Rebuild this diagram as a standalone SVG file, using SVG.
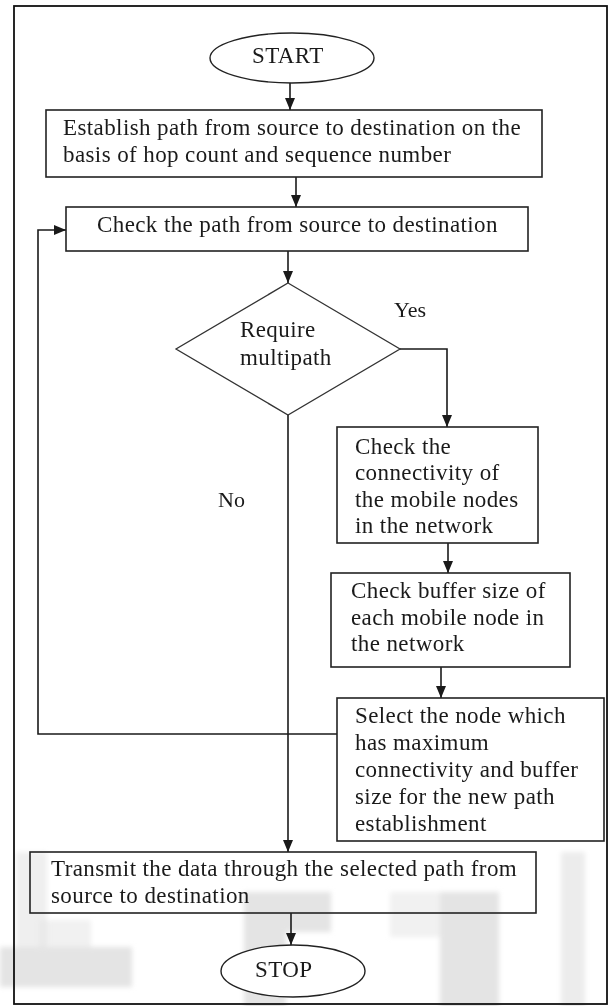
<svg xmlns="http://www.w3.org/2000/svg" width="611" height="1006" viewBox="0 0 611 1006">
<style>
.box{fill:none;stroke:#222;stroke-width:1.6}
.term{fill:#fff;stroke:#222;stroke-width:1.4}
.dia{fill:none;stroke:#333;stroke-width:1.3}
.t{font-family:"Liberation Serif","Times New Roman",serif;font-size:23px;fill:#1a1a1a;letter-spacing:0.4px}
.lbl{font-family:"Liberation Serif","Times New Roman",serif;font-size:22px;fill:#1a1a1a}
.c{fill:none;stroke:#1a1a1a;stroke-width:1.6}
.wm{fill:#e4e4e4}
</style>
<defs>
<marker id="ah" markerUnits="userSpaceOnUse" markerWidth="12" markerHeight="10" refX="12" refY="5" orient="auto">
<path d="M0,0 L12,5 L0,10 z" fill="#1a1a1a"/>
</marker>
<filter id="soft" x="-10%" y="-10%" width="120%" height="120%">
<feGaussianBlur stdDeviation="2.5"/>
</filter>
</defs>
<rect width="611" height="1006" fill="#fff"/>
<g id="watermark" filter="url(#soft)">
<rect class="wm" x="16" y="852" width="31" height="95" opacity="0.6"/>
<rect class="wm" x="39" y="920" width="52" height="27" opacity="0.5"/>
<rect class="wm" x="0" y="947" width="132" height="40"/>
<rect class="wm" x="244" y="892" width="87" height="40"/>
<rect class="wm" x="244" y="932" width="42" height="80"/>
<rect class="wm" x="390" y="892" width="50" height="45" opacity="0.5"/>
<rect class="wm" x="440" y="892" width="59" height="120"/>
<rect class="wm" x="561" y="852" width="24" height="160" opacity="0.7"/>
</g>
<rect id="frame" x="14" y="6" width="593" height="998" fill="none" stroke="#111" stroke-width="1.8"/>
<g id="connectors">
<line class="c" x1="290" y1="83" x2="290" y2="110" marker-end="url(#ah)"/>
<line class="c" x1="296" y1="177" x2="296" y2="207" marker-end="url(#ah)"/>
<line class="c" x1="288" y1="251" x2="288" y2="283" marker-end="url(#ah)"/>
<polyline class="c" points="400,349 447,349 447,427" marker-end="url(#ah)"/>
<line class="c" x1="288" y1="415" x2="288" y2="852" marker-end="url(#ah)"/>
<line class="c" x1="448" y1="543" x2="448" y2="573" marker-end="url(#ah)"/>
<line class="c" x1="441" y1="667" x2="441" y2="698" marker-end="url(#ah)"/>
<polyline class="c" points="337,734 38,734 38,230 66,230" marker-end="url(#ah)"/>
<line class="c" x1="291" y1="913" x2="291" y2="945" marker-end="url(#ah)"/>
<text class="lbl" x="394" y="317">Yes</text>
<text class="lbl" x="218" y="507">No</text>
</g>
<g id="start">
<ellipse class="term" cx="292" cy="58" rx="82" ry="25"/>
<text class="t" x="252" y="63">START</text>
</g>
<g id="establish">
<rect class="box" x="46" y="110" width="496" height="67"/>
<text class="t" x="63" y="135">Establish path from source to destination on the</text>
<text class="t" x="63" y="162">basis of hop count and sequence number</text>
</g>
<g id="checkpath">
<rect class="box" x="66" y="207" width="462" height="44"/>
<text class="t" x="97" y="232">Check the path from source to destination</text>
</g>
<g id="decision">
<polygon class="dia" points="288,283 400,349 288,415 176,349"/>
<text class="t" x="240" y="337">Require</text>
<text class="t" x="240" y="365">multipath</text>
</g>
<g id="connectivity">
<rect class="box" x="337" y="427" width="201" height="116"/>
<text class="t" x="355" y="454">Check the</text>
<text class="t" x="355" y="480">connectivity of</text>
<text class="t" x="355" y="507">the mobile nodes</text>
<text class="t" x="355" y="533">in the network</text>
</g>
<g id="buffer">
<rect class="box" x="331" y="573" width="239" height="94"/>
<text class="t" x="351" y="598">Check buffer size of</text>
<text class="t" x="351" y="625">each mobile node in</text>
<text class="t" x="351" y="651">the network</text>
</g>
<g id="select">
<rect class="box" x="337" y="698" width="267" height="143"/>
<text class="t" x="355" y="723">Select the node which</text>
<text class="t" x="355" y="750">has maximum</text>
<text class="t" x="355" y="777">connectivity and buffer</text>
<text class="t" x="355" y="804">size for the new path</text>
<text class="t" x="355" y="831">establishment</text>
</g>
<g id="transmit">
<rect class="box" x="30" y="852" width="506" height="61"/>
<text class="t" x="51" y="876">Transmit the data through the selected path from</text>
<text class="t" x="51" y="903">source to destination</text>
</g>
<g id="stop">
<ellipse class="term" cx="293" cy="971" rx="72" ry="26"/>
<text class="t" x="255" y="977">STOP</text>
</g>
</svg>
